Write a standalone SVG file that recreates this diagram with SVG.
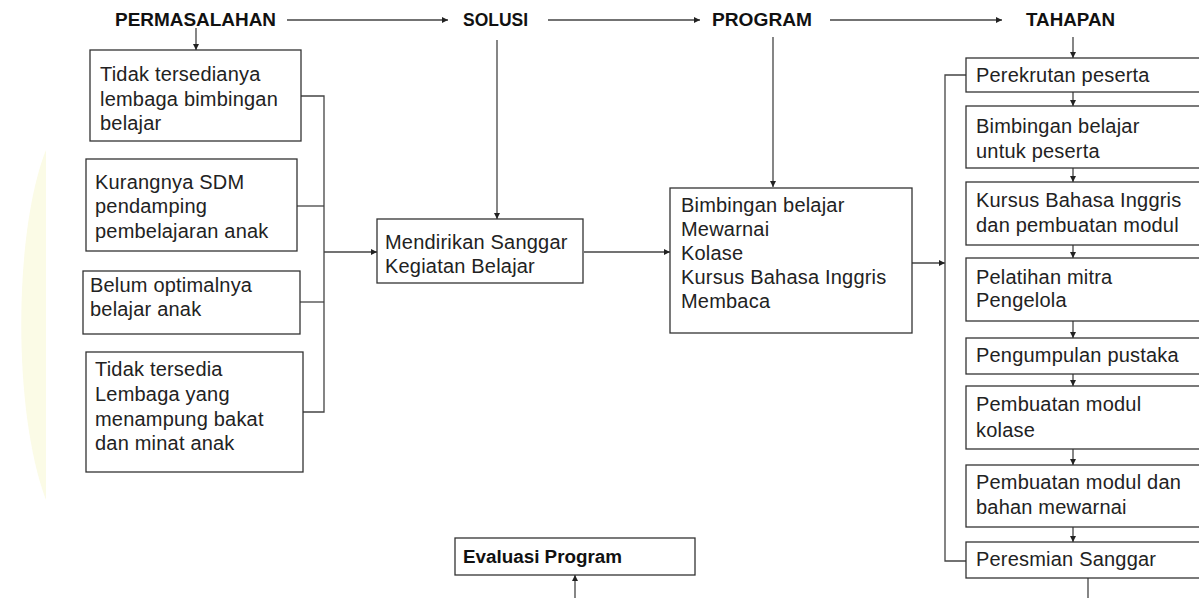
<svg xmlns="http://www.w3.org/2000/svg" width="1199" height="598" viewBox="0 0 1199 598">
<defs>
<marker id="ah" viewBox="0 0 10 10" refX="10" refY="5" markerWidth="6" markerHeight="6" markerUnits="userSpaceOnUse" orient="auto">
<path d="M0,0 L10,5 L0,10 z" fill="#222"/>
</marker>
<style>
.box{fill:#fff;stroke:#333;stroke-width:1.3}
.t{font-family:"Liberation Sans",Arial,sans-serif;font-size:20px;letter-spacing:0.2px;fill:#222}
.h{font-family:"Liberation Sans",Arial,sans-serif;font-size:18px;font-weight:bold;fill:#111}
.c{fill:none;stroke:#444;stroke-width:1.3}
.ca{fill:none;stroke:#444;stroke-width:1.3;marker-end:url(#ah)}
</style>
</defs>
<rect width="1199" height="598" fill="#fff"/>
<path d="M46,150 C14,230 12,410 46,500 L46,150 z" fill="#fbfbe6"/>
<g id="headers">
<text class="h" x="115" y="26" textLength="161" lengthAdjust="spacingAndGlyphs">PERMASALAHAN</text>
<text class="h" x="463" y="26" textLength="65" lengthAdjust="spacingAndGlyphs">SOLUSI</text>
<text class="h" x="712" y="26" textLength="100" lengthAdjust="spacingAndGlyphs">PROGRAM</text>
<text class="h" x="1026" y="26" textLength="89" lengthAdjust="spacingAndGlyphs">TAHAPAN</text>
</g>
<g id="connectors">
<line class="ca" x1="287" y1="20" x2="448" y2="20"/>
<line class="ca" x1="548" y1="20" x2="700" y2="20"/>
<line class="ca" x1="830" y1="20" x2="1002" y2="20"/>
<line class="ca" x1="196" y1="28" x2="196" y2="50"/>
<line class="ca" x1="497" y1="40" x2="497" y2="219"/>
<line class="ca" x1="773" y1="37" x2="773" y2="187"/>
<line class="ca" x1="1073" y1="37" x2="1073" y2="58"/>
<polyline class="c" points="301,96 324,96 324,412 303,412"/>
<line class="c" x1="297" y1="206" x2="324" y2="206"/>
<line class="c" x1="300" y1="302" x2="324" y2="302"/>
<line class="ca" x1="324" y1="252" x2="377" y2="252"/>
<line class="ca" x1="584" y1="252" x2="670" y2="252"/>
<line class="ca" x1="912" y1="263" x2="945" y2="263"/>
<polyline class="c" points="966,75 945,75 945,561 966,561"/>
<line class="ca" x1="1073" y1="92" x2="1073" y2="106"/>
<line class="ca" x1="1073" y1="168" x2="1073" y2="182"/>
<line class="ca" x1="1073" y1="245" x2="1073" y2="258"/>
<line class="ca" x1="1073" y1="321" x2="1073" y2="338"/>
<line class="ca" x1="1073" y1="374" x2="1073" y2="386"/>
<line class="ca" x1="1073" y1="449" x2="1073" y2="465"/>
<line class="ca" x1="1073" y1="527" x2="1073" y2="542"/>
<line class="c" x1="1088" y1="578" x2="1088" y2="600"/>
<line class="ca" x1="575" y1="600" x2="575" y2="575"/>
</g>
<g id="p1"><rect class="box" x="90" y="50" width="211" height="91"/>
<text class="t" x="100" y="81">Tidak tersedianya</text>
<text class="t" x="100" y="106">lembaga bimbingan</text>
<text class="t" x="100" y="130">belajar</text></g>
<g id="p2"><rect class="box" x="86" y="159" width="211" height="92"/>
<text class="t" x="95" y="189">Kurangnya SDM</text>
<text class="t" x="95" y="213">pendamping</text>
<text class="t" x="95" y="238">pembelajaran anak</text></g>
<g id="p3"><rect class="box" x="83" y="271" width="217" height="63"/>
<text class="t" x="90" y="292">Belum optimalnya</text>
<text class="t" x="90" y="316">belajar anak</text></g>
<g id="p4"><rect class="box" x="86" y="352" width="217" height="120"/>
<text class="t" x="95" y="376">Tidak tersedia</text>
<text class="t" x="95" y="401">Lembaga yang</text>
<text class="t" x="95" y="426">menampung bakat</text>
<text class="t" x="95" y="450">dan minat anak</text></g>
<g id="solusi"><rect class="box" x="377" y="219" width="206" height="64"/>
<text class="t" x="385" y="249">Mendirikan Sanggar</text>
<text class="t" x="385" y="273">Kegiatan Belajar</text></g>
<g id="program"><rect class="box" x="670" y="188" width="242" height="145"/>
<text class="t" x="681" y="212">Bimbingan belajar</text>
<text class="t" x="681" y="236">Mewarnai</text>
<text class="t" x="681" y="260">Kolase</text>
<text class="t" x="681" y="284">Kursus Bahasa Inggris</text>
<text class="t" x="681" y="308">Membaca</text></g>
<g id="r1"><rect class="box" x="966" y="58" width="240" height="34"/>
<text class="t" x="976" y="82">Perekrutan peserta</text></g>
<g id="r2"><rect class="box" x="966" y="106" width="240" height="62"/>
<text class="t" x="976" y="133">Bimbingan belajar</text>
<text class="t" x="976" y="158">untuk peserta</text></g>
<g id="r3"><rect class="box" x="966" y="182" width="240" height="63"/>
<text class="t" x="976" y="207">Kursus Bahasa Inggris</text>
<text class="t" x="976" y="232">dan pembuatan modul</text></g>
<g id="r4"><rect class="box" x="966" y="258" width="240" height="63"/>
<text class="t" x="976" y="284">Pelatihan mitra</text>
<text class="t" x="976" y="307">Pengelola</text></g>
<g id="r5"><rect class="box" x="966" y="338" width="240" height="36"/>
<text class="t" x="976" y="362">Pengumpulan pustaka</text></g>
<g id="r6"><rect class="box" x="966" y="386" width="240" height="63"/>
<text class="t" x="976" y="411">Pembuatan modul</text>
<text class="t" x="976" y="437">kolase</text></g>
<g id="r7"><rect class="box" x="966" y="465" width="240" height="62"/>
<text class="t" x="976" y="489">Pembuatan modul dan</text>
<text class="t" x="976" y="514">bahan mewarnai</text></g>
<g id="r8"><rect class="box" x="966" y="542" width="240" height="36"/>
<text class="t" x="976" y="566">Peresmian Sanggar</text></g>
<g id="evaluasi"><rect class="box" x="455" y="538" width="240" height="37"/>
<text class="h" x="463" y="563" textLength="159" lengthAdjust="spacingAndGlyphs">Evaluasi Program</text></g>
</svg>
